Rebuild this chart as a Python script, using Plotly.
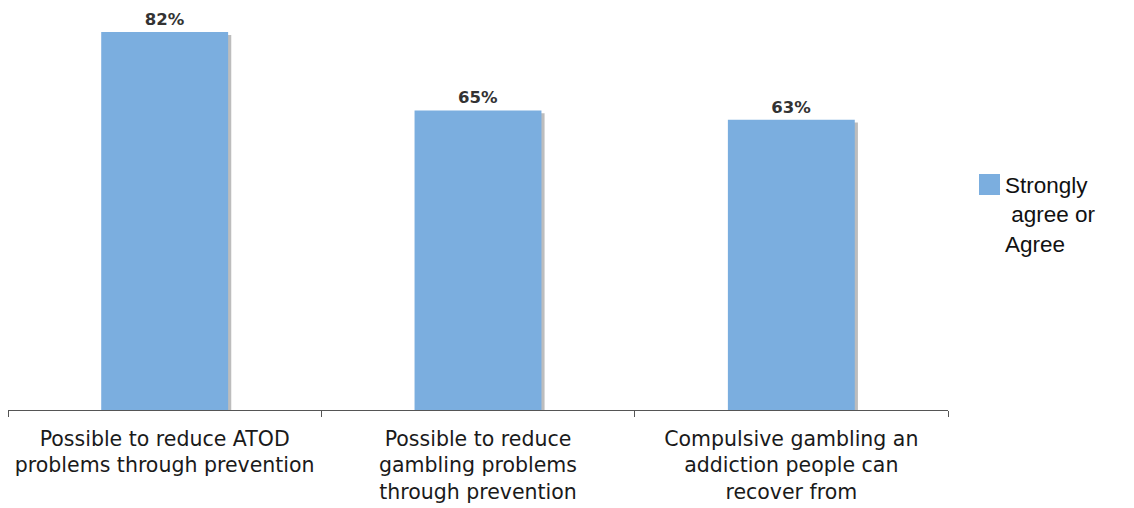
import plotly.graph_objects as go

categories = [
    "Possible to reduce ATOD<br>problems through prevention",
    "Possible to reduce<br>gambling problems<br>through prevention",
    "Compulsive gambling an<br>addiction people can<br>recover from",
]
values = [82, 65, 63]
series_name = "Strongly<br> agree or<br>Agree"

BAR_COLOR = "#7BAEDF"
SHADOW = "#BDBDBD"
W = 0.405

# figure is placed at (8, 8) on the page by the default body margin
PL, PT, PW, PH = 0, 2, 940, 400

fig = go.Figure()
# shadow
fig.add_trace(go.Bar(
    x=categories, y=[v - 0.6 for v in values], width=W, offset=-W / 2 + 0.01,
    marker=dict(color=SHADOW, line=dict(width=0)), hoverinfo="skip", showlegend=False,
))
fig.add_trace(go.Bar(
    x=categories, y=values, width=W, offset=-W / 2,
    marker=dict(color=BAR_COLOR, line=dict(width=0)),
    text=[f"{v}%" for v in values], textposition="outside",
    textfont=dict(family="DejaVu Sans", size=16.5, color="#333333", weight="bold"),
    cliponaxis=False, name="Strongly agree or Agree", showlegend=False,
))

def px(xp):
    return (xp - 8 - PL) / PW

def py(yp):
    return (PT + PH - (yp - 8)) / PH

# legend
fig.add_shape(type="rect", xref="paper", yref="paper",
              x0=px(979), x1=px(1000), y0=py(195), y1=py(174),
              fillcolor=BAR_COLOR, line=dict(width=0))
fig.add_annotation(xref="paper", yref="paper", x=px(1003), y=py(171),
                   xanchor="left", yanchor="top", align="left", showarrow=False,
                   text=series_name,
                   font=dict(family="Liberation Sans, Arial", size=22.5, color="#111111"))

fig.update_layout(
    width=1126, height=500,
    margin=dict(l=PL, r=1126 - PL - PW, t=PT, b=500 - PT - PH),
    paper_bgcolor="white", plot_bgcolor="white",
    barmode="overlay", showlegend=False,
    font=dict(family="DejaVu Sans", color="#222222"),
)
fig.update_xaxes(
    type="category", tickson="boundaries", ticks="outside", ticklen=6,
    tickcolor="#555555", showline=True, linecolor="#555555", linewidth=1,
    showgrid=False, tickfont=dict(family="DejaVu Sans", size=20.5, color="#1a1a1a"),
    ticklabelstandoff=10,
)
fig.update_yaxes(range=[0, 86.8], visible=False, showgrid=False)

fig.write_html("out.html")
